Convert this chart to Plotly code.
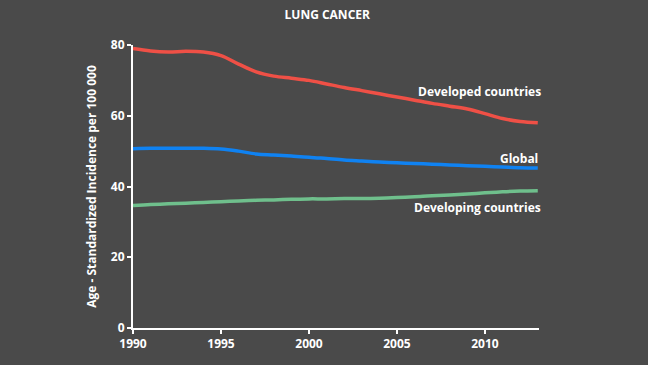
import plotly.graph_objects as go

years = list(range(1990, 2014))
developed = [79.0, 78.3, 78.0, 78.2, 78.0, 77.0, 74.6, 72.4, 71.2, 70.6, 70.0, 69.0, 68.0, 67.1, 66.2, 65.3, 64.4, 63.5, 62.7, 61.9, 60.6, 59.2, 58.4, 58.0]
global_ = [50.7, 50.8, 50.8, 50.8, 50.8, 50.6, 50.0, 49.2, 48.9, 48.6, 48.3, 47.9, 47.5, 47.2, 46.9, 46.7, 46.5, 46.3, 46.1, 45.9, 45.7, 45.5, 45.3, 45.2]
developing = [34.6, 34.9, 35.1, 35.3, 35.5, 35.7, 35.9, 36.1, 36.2, 36.4, 36.5, 36.5, 36.6, 36.6, 36.7, 36.9, 37.1, 37.4, 37.6, 37.9, 38.2, 38.5, 38.7, 38.8]

series_names = ["Developed countries", "Global", "Developing countries"]
series_colors = ["#ef5046", "#0f82f2", "#6fbf8c"]
label_pos = [(1.01, 66.8), (1.003, 47.9), (1.01, 34.1)]

fig = go.Figure()
for name, vals, col in zip(series_names, [developed, global_, developing], series_colors):
    fig.add_trace(go.Scatter(x=years, y=vals, mode="lines", name=name,
                             line=dict(color=col, width=3.5, shape="spline", smoothing=1.0),
                             hoverinfo="skip"))

for name, (lx, ly) in zip(series_names, label_pos):
    fig.add_annotation(x=lx, xref="paper", y=ly, yref="y", text="<b>" + name + "</b>", showarrow=False,
                       xanchor="right", yanchor="middle",
                       font=dict(color="white", size=12, family="Open Sans"))

fig.update_layout(
    width=648, height=365,
    paper_bgcolor="#4a4a4a", plot_bgcolor="#4a4a4a",
    margin=dict(l=133, r=109, t=45, b=37),
    showlegend=False,
    title=dict(text="<b>LUNG CANCER</b>", x=0.505, xanchor="center", y=0.96, yanchor="middle",
               font=dict(color="white", size=12, family="Open Sans")),
    font=dict(family="Open Sans", color="white"),
)
fig.update_xaxes(range=[1990, 2013.07], tickvals=[1990, 1995, 2000, 2005, 2010],
                 ticktext=["<b>1990</b>", "<b>1995</b>", "<b>2000</b>", "<b>2005</b>", "<b>2010</b>"],
                 showgrid=False, zeroline=False, showline=True, linecolor="white", linewidth=2,
                 ticks="outside", ticklen=4, tickcolor="white", tickwidth=2,
                 tickfont=dict(color="white", size=12, family="Open Sans"))
fig.update_yaxes(range=[0, 80], tickvals=[0, 20, 40, 60, 80],
                 ticktext=["<b>0</b>", "<b>20</b>", "<b>40</b>", "<b>60</b>", "<b>80</b>"],
                 showgrid=False, zeroline=False, showline=True, linecolor="white", linewidth=2,
                 ticks="outside", ticklen=4, tickcolor="white", tickwidth=2,
                 tickfont=dict(color="white", size=12, family="Open Sans"),
                 title=dict(text="<b>Age - Standardized Incidence per 100 000</b>", standoff=12,
                            font=dict(color="white", size=12, family="Open Sans")))

fig.write_html("out.html", config={"displayModeBar": False},
               post_script="document.body.style.margin='0';document.body.style.background='#4a4a4a';")
